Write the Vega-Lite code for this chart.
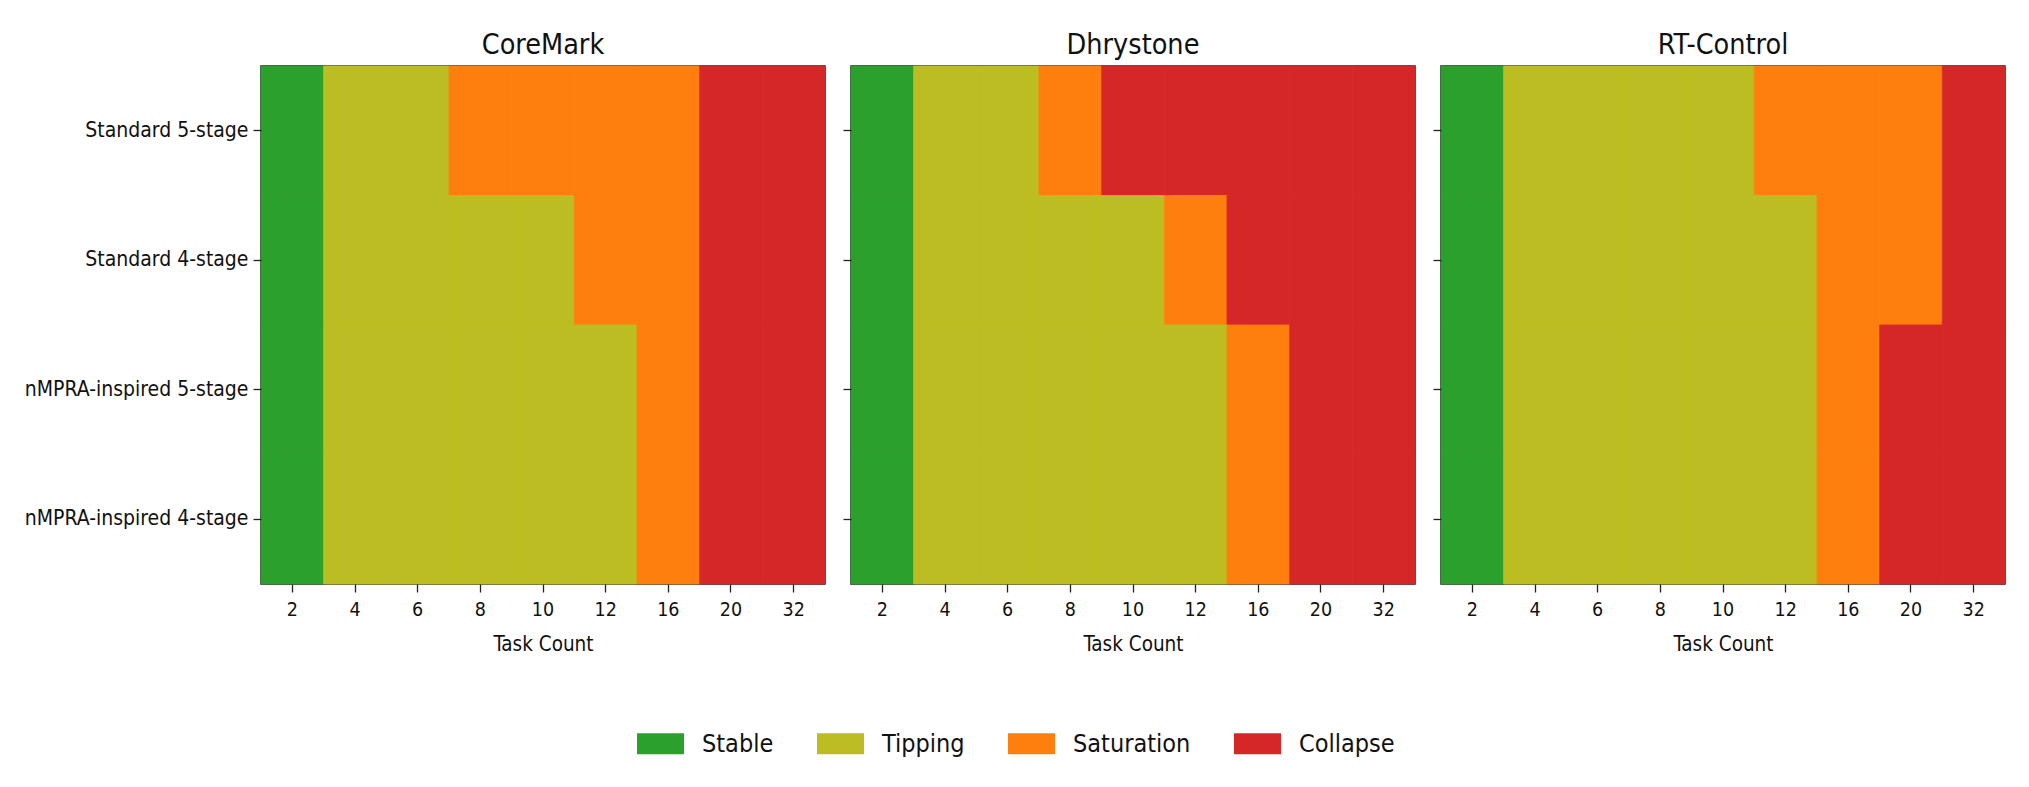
{
  "$schema": "https://vega.github.io/schema/vega-lite/v6.json",
  "background": "white",
  "padding": {"left": 23, "top": 29, "right": 10, "bottom": 10},
  "data": {
    "values": [
      {"benchmark": "CoreMark", "config": "Standard 5-stage", "tasks": "2", "state": "Stable"},
      {"benchmark": "CoreMark", "config": "Standard 5-stage", "tasks": "4", "state": "Tipping"},
      {"benchmark": "CoreMark", "config": "Standard 5-stage", "tasks": "6", "state": "Tipping"},
      {"benchmark": "CoreMark", "config": "Standard 5-stage", "tasks": "8", "state": "Saturation"},
      {"benchmark": "CoreMark", "config": "Standard 5-stage", "tasks": "10", "state": "Saturation"},
      {"benchmark": "CoreMark", "config": "Standard 5-stage", "tasks": "12", "state": "Saturation"},
      {"benchmark": "CoreMark", "config": "Standard 5-stage", "tasks": "16", "state": "Saturation"},
      {"benchmark": "CoreMark", "config": "Standard 5-stage", "tasks": "20", "state": "Collapse"},
      {"benchmark": "CoreMark", "config": "Standard 5-stage", "tasks": "32", "state": "Collapse"},
      {"benchmark": "CoreMark", "config": "Standard 4-stage", "tasks": "2", "state": "Stable"},
      {"benchmark": "CoreMark", "config": "Standard 4-stage", "tasks": "4", "state": "Tipping"},
      {"benchmark": "CoreMark", "config": "Standard 4-stage", "tasks": "6", "state": "Tipping"},
      {"benchmark": "CoreMark", "config": "Standard 4-stage", "tasks": "8", "state": "Tipping"},
      {"benchmark": "CoreMark", "config": "Standard 4-stage", "tasks": "10", "state": "Tipping"},
      {"benchmark": "CoreMark", "config": "Standard 4-stage", "tasks": "12", "state": "Saturation"},
      {"benchmark": "CoreMark", "config": "Standard 4-stage", "tasks": "16", "state": "Saturation"},
      {"benchmark": "CoreMark", "config": "Standard 4-stage", "tasks": "20", "state": "Collapse"},
      {"benchmark": "CoreMark", "config": "Standard 4-stage", "tasks": "32", "state": "Collapse"},
      {"benchmark": "CoreMark", "config": "nMPRA-inspired 5-stage", "tasks": "2", "state": "Stable"},
      {"benchmark": "CoreMark", "config": "nMPRA-inspired 5-stage", "tasks": "4", "state": "Tipping"},
      {"benchmark": "CoreMark", "config": "nMPRA-inspired 5-stage", "tasks": "6", "state": "Tipping"},
      {"benchmark": "CoreMark", "config": "nMPRA-inspired 5-stage", "tasks": "8", "state": "Tipping"},
      {"benchmark": "CoreMark", "config": "nMPRA-inspired 5-stage", "tasks": "10", "state": "Tipping"},
      {"benchmark": "CoreMark", "config": "nMPRA-inspired 5-stage", "tasks": "12", "state": "Tipping"},
      {"benchmark": "CoreMark", "config": "nMPRA-inspired 5-stage", "tasks": "16", "state": "Saturation"},
      {"benchmark": "CoreMark", "config": "nMPRA-inspired 5-stage", "tasks": "20", "state": "Collapse"},
      {"benchmark": "CoreMark", "config": "nMPRA-inspired 5-stage", "tasks": "32", "state": "Collapse"},
      {"benchmark": "CoreMark", "config": "nMPRA-inspired 4-stage", "tasks": "2", "state": "Stable"},
      {"benchmark": "CoreMark", "config": "nMPRA-inspired 4-stage", "tasks": "4", "state": "Tipping"},
      {"benchmark": "CoreMark", "config": "nMPRA-inspired 4-stage", "tasks": "6", "state": "Tipping"},
      {"benchmark": "CoreMark", "config": "nMPRA-inspired 4-stage", "tasks": "8", "state": "Tipping"},
      {"benchmark": "CoreMark", "config": "nMPRA-inspired 4-stage", "tasks": "10", "state": "Tipping"},
      {"benchmark": "CoreMark", "config": "nMPRA-inspired 4-stage", "tasks": "12", "state": "Tipping"},
      {"benchmark": "CoreMark", "config": "nMPRA-inspired 4-stage", "tasks": "16", "state": "Saturation"},
      {"benchmark": "CoreMark", "config": "nMPRA-inspired 4-stage", "tasks": "20", "state": "Collapse"},
      {"benchmark": "CoreMark", "config": "nMPRA-inspired 4-stage", "tasks": "32", "state": "Collapse"},

      {"benchmark": "Dhrystone", "config": "Standard 5-stage", "tasks": "2", "state": "Stable"},
      {"benchmark": "Dhrystone", "config": "Standard 5-stage", "tasks": "4", "state": "Tipping"},
      {"benchmark": "Dhrystone", "config": "Standard 5-stage", "tasks": "6", "state": "Tipping"},
      {"benchmark": "Dhrystone", "config": "Standard 5-stage", "tasks": "8", "state": "Saturation"},
      {"benchmark": "Dhrystone", "config": "Standard 5-stage", "tasks": "10", "state": "Collapse"},
      {"benchmark": "Dhrystone", "config": "Standard 5-stage", "tasks": "12", "state": "Collapse"},
      {"benchmark": "Dhrystone", "config": "Standard 5-stage", "tasks": "16", "state": "Collapse"},
      {"benchmark": "Dhrystone", "config": "Standard 5-stage", "tasks": "20", "state": "Collapse"},
      {"benchmark": "Dhrystone", "config": "Standard 5-stage", "tasks": "32", "state": "Collapse"},
      {"benchmark": "Dhrystone", "config": "Standard 4-stage", "tasks": "2", "state": "Stable"},
      {"benchmark": "Dhrystone", "config": "Standard 4-stage", "tasks": "4", "state": "Tipping"},
      {"benchmark": "Dhrystone", "config": "Standard 4-stage", "tasks": "6", "state": "Tipping"},
      {"benchmark": "Dhrystone", "config": "Standard 4-stage", "tasks": "8", "state": "Tipping"},
      {"benchmark": "Dhrystone", "config": "Standard 4-stage", "tasks": "10", "state": "Tipping"},
      {"benchmark": "Dhrystone", "config": "Standard 4-stage", "tasks": "12", "state": "Saturation"},
      {"benchmark": "Dhrystone", "config": "Standard 4-stage", "tasks": "16", "state": "Collapse"},
      {"benchmark": "Dhrystone", "config": "Standard 4-stage", "tasks": "20", "state": "Collapse"},
      {"benchmark": "Dhrystone", "config": "Standard 4-stage", "tasks": "32", "state": "Collapse"},
      {"benchmark": "Dhrystone", "config": "nMPRA-inspired 5-stage", "tasks": "2", "state": "Stable"},
      {"benchmark": "Dhrystone", "config": "nMPRA-inspired 5-stage", "tasks": "4", "state": "Tipping"},
      {"benchmark": "Dhrystone", "config": "nMPRA-inspired 5-stage", "tasks": "6", "state": "Tipping"},
      {"benchmark": "Dhrystone", "config": "nMPRA-inspired 5-stage", "tasks": "8", "state": "Tipping"},
      {"benchmark": "Dhrystone", "config": "nMPRA-inspired 5-stage", "tasks": "10", "state": "Tipping"},
      {"benchmark": "Dhrystone", "config": "nMPRA-inspired 5-stage", "tasks": "12", "state": "Tipping"},
      {"benchmark": "Dhrystone", "config": "nMPRA-inspired 5-stage", "tasks": "16", "state": "Saturation"},
      {"benchmark": "Dhrystone", "config": "nMPRA-inspired 5-stage", "tasks": "20", "state": "Collapse"},
      {"benchmark": "Dhrystone", "config": "nMPRA-inspired 5-stage", "tasks": "32", "state": "Collapse"},
      {"benchmark": "Dhrystone", "config": "nMPRA-inspired 4-stage", "tasks": "2", "state": "Stable"},
      {"benchmark": "Dhrystone", "config": "nMPRA-inspired 4-stage", "tasks": "4", "state": "Tipping"},
      {"benchmark": "Dhrystone", "config": "nMPRA-inspired 4-stage", "tasks": "6", "state": "Tipping"},
      {"benchmark": "Dhrystone", "config": "nMPRA-inspired 4-stage", "tasks": "8", "state": "Tipping"},
      {"benchmark": "Dhrystone", "config": "nMPRA-inspired 4-stage", "tasks": "10", "state": "Tipping"},
      {"benchmark": "Dhrystone", "config": "nMPRA-inspired 4-stage", "tasks": "12", "state": "Tipping"},
      {"benchmark": "Dhrystone", "config": "nMPRA-inspired 4-stage", "tasks": "16", "state": "Saturation"},
      {"benchmark": "Dhrystone", "config": "nMPRA-inspired 4-stage", "tasks": "20", "state": "Collapse"},
      {"benchmark": "Dhrystone", "config": "nMPRA-inspired 4-stage", "tasks": "32", "state": "Collapse"},

      {"benchmark": "RT-Control", "config": "Standard 5-stage", "tasks": "2", "state": "Stable"},
      {"benchmark": "RT-Control", "config": "Standard 5-stage", "tasks": "4", "state": "Tipping"},
      {"benchmark": "RT-Control", "config": "Standard 5-stage", "tasks": "6", "state": "Tipping"},
      {"benchmark": "RT-Control", "config": "Standard 5-stage", "tasks": "8", "state": "Tipping"},
      {"benchmark": "RT-Control", "config": "Standard 5-stage", "tasks": "10", "state": "Tipping"},
      {"benchmark": "RT-Control", "config": "Standard 5-stage", "tasks": "12", "state": "Saturation"},
      {"benchmark": "RT-Control", "config": "Standard 5-stage", "tasks": "16", "state": "Saturation"},
      {"benchmark": "RT-Control", "config": "Standard 5-stage", "tasks": "20", "state": "Saturation"},
      {"benchmark": "RT-Control", "config": "Standard 5-stage", "tasks": "32", "state": "Collapse"},
      {"benchmark": "RT-Control", "config": "Standard 4-stage", "tasks": "2", "state": "Stable"},
      {"benchmark": "RT-Control", "config": "Standard 4-stage", "tasks": "4", "state": "Tipping"},
      {"benchmark": "RT-Control", "config": "Standard 4-stage", "tasks": "6", "state": "Tipping"},
      {"benchmark": "RT-Control", "config": "Standard 4-stage", "tasks": "8", "state": "Tipping"},
      {"benchmark": "RT-Control", "config": "Standard 4-stage", "tasks": "10", "state": "Tipping"},
      {"benchmark": "RT-Control", "config": "Standard 4-stage", "tasks": "12", "state": "Tipping"},
      {"benchmark": "RT-Control", "config": "Standard 4-stage", "tasks": "16", "state": "Saturation"},
      {"benchmark": "RT-Control", "config": "Standard 4-stage", "tasks": "20", "state": "Saturation"},
      {"benchmark": "RT-Control", "config": "Standard 4-stage", "tasks": "32", "state": "Collapse"},
      {"benchmark": "RT-Control", "config": "nMPRA-inspired 5-stage", "tasks": "2", "state": "Stable"},
      {"benchmark": "RT-Control", "config": "nMPRA-inspired 5-stage", "tasks": "4", "state": "Tipping"},
      {"benchmark": "RT-Control", "config": "nMPRA-inspired 5-stage", "tasks": "6", "state": "Tipping"},
      {"benchmark": "RT-Control", "config": "nMPRA-inspired 5-stage", "tasks": "8", "state": "Tipping"},
      {"benchmark": "RT-Control", "config": "nMPRA-inspired 5-stage", "tasks": "10", "state": "Tipping"},
      {"benchmark": "RT-Control", "config": "nMPRA-inspired 5-stage", "tasks": "12", "state": "Tipping"},
      {"benchmark": "RT-Control", "config": "nMPRA-inspired 5-stage", "tasks": "16", "state": "Saturation"},
      {"benchmark": "RT-Control", "config": "nMPRA-inspired 5-stage", "tasks": "20", "state": "Collapse"},
      {"benchmark": "RT-Control", "config": "nMPRA-inspired 5-stage", "tasks": "32", "state": "Collapse"},
      {"benchmark": "RT-Control", "config": "nMPRA-inspired 4-stage", "tasks": "2", "state": "Stable"},
      {"benchmark": "RT-Control", "config": "nMPRA-inspired 4-stage", "tasks": "4", "state": "Tipping"},
      {"benchmark": "RT-Control", "config": "nMPRA-inspired 4-stage", "tasks": "6", "state": "Tipping"},
      {"benchmark": "RT-Control", "config": "nMPRA-inspired 4-stage", "tasks": "8", "state": "Tipping"},
      {"benchmark": "RT-Control", "config": "nMPRA-inspired 4-stage", "tasks": "10", "state": "Tipping"},
      {"benchmark": "RT-Control", "config": "nMPRA-inspired 4-stage", "tasks": "12", "state": "Tipping"},
      {"benchmark": "RT-Control", "config": "nMPRA-inspired 4-stage", "tasks": "16", "state": "Saturation"},
      {"benchmark": "RT-Control", "config": "nMPRA-inspired 4-stage", "tasks": "20", "state": "Collapse"},
      {"benchmark": "RT-Control", "config": "nMPRA-inspired 4-stage", "tasks": "32", "state": "Collapse"}
    ]
  },
  "spacing": 26,
  "bounds": "flush",
  "hconcat": [
    {
      "width": 564,
      "height": 518,
      "title": {"text": "CoreMark"},
      "transform": [{"filter": "datum.benchmark === 'CoreMark'"}],
      "mark": {"type": "rect", "strokeWidth": 0.8},
      "encoding": {
        "x": {"field": "tasks", "type": "ordinal", "sort": ["2", "4", "6", "8", "10", "12", "16", "20", "32"], "scale": {"paddingInner": 0, "paddingOuter": 0}, "axis": {"title": "Task Count"}},
        "y": {"field": "config", "type": "nominal", "sort": ["Standard 5-stage", "Standard 4-stage", "nMPRA-inspired 5-stage", "nMPRA-inspired 4-stage"], "scale": {"paddingInner": 0, "paddingOuter": 0}, "axis": {"title": null}},
        "color": {"field": "state", "type": "nominal", "scale": {"domain": ["Stable", "Tipping", "Saturation", "Collapse"], "range": ["#2ca02c", "#bcbd22", "#ff7f0e", "#d62728"]}, "legend": {"title": null, "orient": "none", "direction": "horizontal", "legendX": 376, "legendY": 654}},
        "stroke": {"field": "state", "type": "nominal", "scale": {"domain": ["Stable", "Tipping", "Saturation", "Collapse"], "range": ["#2ca02c", "#bcbd22", "#ff7f0e", "#d62728"]}, "legend": null}
      }
    },
    {
      "width": 564,
      "height": 518,
      "title": {"text": "Dhrystone"},
      "transform": [{"filter": "datum.benchmark === 'Dhrystone'"}],
      "mark": {"type": "rect", "strokeWidth": 0.8},
      "encoding": {
        "x": {"field": "tasks", "type": "ordinal", "sort": ["2", "4", "6", "8", "10", "12", "16", "20", "32"], "scale": {"paddingInner": 0, "paddingOuter": 0}, "axis": {"title": "Task Count"}},
        "y": {"field": "config", "type": "nominal", "sort": ["Standard 5-stage", "Standard 4-stage", "nMPRA-inspired 5-stage", "nMPRA-inspired 4-stage"], "scale": {"paddingInner": 0, "paddingOuter": 0}, "axis": {"title": null, "labels": false}},
        "color": {"field": "state", "type": "nominal", "scale": {"domain": ["Stable", "Tipping", "Saturation", "Collapse"], "range": ["#2ca02c", "#bcbd22", "#ff7f0e", "#d62728"]}, "legend": {"title": null, "orient": "none", "direction": "horizontal", "legendX": 376, "legendY": 654}},
        "stroke": {"field": "state", "type": "nominal", "scale": {"domain": ["Stable", "Tipping", "Saturation", "Collapse"], "range": ["#2ca02c", "#bcbd22", "#ff7f0e", "#d62728"]}, "legend": null}
      }
    },
    {
      "width": 564,
      "height": 518,
      "title": {"text": "RT-Control"},
      "transform": [{"filter": "datum.benchmark === 'RT-Control'"}],
      "mark": {"type": "rect", "strokeWidth": 0.8},
      "encoding": {
        "x": {"field": "tasks", "type": "ordinal", "sort": ["2", "4", "6", "8", "10", "12", "16", "20", "32"], "scale": {"paddingInner": 0, "paddingOuter": 0}, "axis": {"title": "Task Count"}},
        "y": {"field": "config", "type": "nominal", "sort": ["Standard 5-stage", "Standard 4-stage", "nMPRA-inspired 5-stage", "nMPRA-inspired 4-stage"], "scale": {"paddingInner": 0, "paddingOuter": 0}, "axis": {"title": null, "labels": false}},
        "color": {"field": "state", "type": "nominal", "scale": {"domain": ["Stable", "Tipping", "Saturation", "Collapse"], "range": ["#2ca02c", "#bcbd22", "#ff7f0e", "#d62728"]}, "legend": {"title": null, "orient": "none", "direction": "horizontal", "legendX": 376, "legendY": 654}},
        "stroke": {"field": "state", "type": "nominal", "scale": {"domain": ["Stable", "Tipping", "Saturation", "Collapse"], "range": ["#2ca02c", "#bcbd22", "#ff7f0e", "#d62728"]}, "legend": null}
      }
    }
  ],
  "config": {
    "font": "DejaVu Sans Condensed, DejaVu Sans",
    "view": {"stroke": "#1a1a1a", "strokeWidth": 1.5},
    "title": {"fontSize": 28.5, "fontWeight": "normal", "color": "#111", "anchor": "middle", "baseline": "alphabetic", "offset": 6.5},
    "axis": {
      "grid": false,
      "domain": false,
      "ticks": true,
      "tickColor": "#222",
      "tickSize": 8,
      "tickWidth": 1.3,
      "labelColor": "#111",
      "titleColor": "#111",
      "titleFontWeight": "normal"
    },
    "axisX": {"labelFontSize": 19.5, "labelAngle": 0, "labelPadding": 8, "titleFontSize": 20.5, "titlePadding": 16},
    "axisY": {"labelFontSize": 21, "labelPadding": 5, "labelLimit": 400},
    "legend": {
      "padding": 0,
      "labelFontSize": 25,
      "labelColor": "#111",
      "labelOffset": 18,
      "columnPadding": 43,
      "symbolType": "M-1,-0.447H1V0.447H-1Z",
      "symbolSize": 2209,
      "symbolStrokeWidth": 0,
      "symbolOpacity": 1
    }
  }
}
